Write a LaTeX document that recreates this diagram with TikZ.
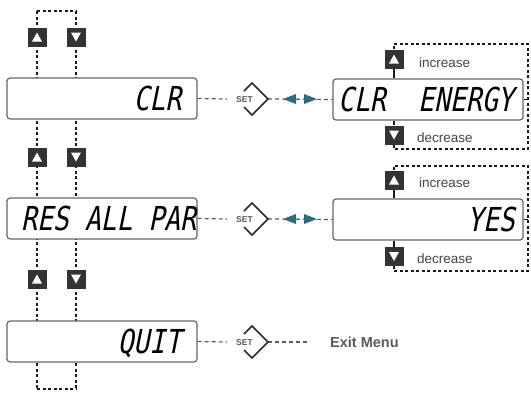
\documentclass[tikz,border=0pt]{standalone}
\usepackage{fontspec}
\setmainfont{Liberation Sans}
\newfontfamily\lcd[FakeStretch=0.8,FakeSlant=0.2]{DejaVu Sans Mono}
\usetikzlibrary{backgrounds}
\definecolor{btn}{HTML}{333333}
\definecolor{boxc}{HTML}{666666}
\definecolor{dashc}{HTML}{1A1A1A}
\definecolor{tealc}{HTML}{2F6B7C}
\definecolor{lbl}{HTML}{444444}
\definecolor{setc}{HTML}{5A5A5A}
\definecolor{chevc}{HTML}{2A2A2A}
\tikzset{
  disp/.style={draw=boxc, line width=1.2pt, rounded corners=3pt, fill=white,
    minimum width=190pt, minimum height=41pt, inner sep=0pt},
  lcdtxt/.style={font=\lcd\fontsize{33}{33}\selectfont, inner sep=0pt, anchor=base west, text=black},
  btnbase/.style={fill=btn, minimum size=19pt, inner sep=0pt},
  btnup/.style={btnbase, path picture={\fill[white] ([shift={(-5pt,-4.5pt)}]path picture bounding box.center) -- ++(10pt,0pt) -- ++(-5pt,9pt) -- cycle;}},
  btndown/.style={btnbase, path picture={\fill[white] ([shift={(-5pt,4.5pt)}]path picture bounding box.center) -- ++(10pt,0pt) -- ++(-5pt,-9pt) -- cycle;}},
  loopline/.style={draw=dashc, line width=1.3pt, dash pattern=on 3pt off 2.5pt},
  setline/.style={draw=setc, line width=1.2pt, dash pattern=on 4pt off 3pt},
  stub/.style={draw=dashc, line width=1.2pt},
  chev/.style={draw=chevc, line width=1.6pt, line join=miter},
  settxt/.style={font=\bfseries\fontsize{8.5}{8.5}\selectfont, text=setc, inner sep=0pt},
  lab/.style={font=\fontsize{13.5}{13.5}\selectfont, text=lbl, inner sep=0pt, anchor=base west},
  tealtip/.style={fill=tealc},
}
\begin{document}
\begin{tikzpicture}[x=1pt,y=-1pt]
\useasboundingbox (0,0) rectangle (531,392);

% left displays
\node[disp] (L1) at (102,98.5) {};
\node[disp] (L2) at (102,218.5) {};
\node[disp] (L3) at (102,341.5) {};
\node[lcdtxt] (t1) at (133.3,110.5) {CLR};
\node[lcdtxt] (t2) at (21,230.5) {RES ALL PAR};
\node[lcdtxt] (t3) at (117.4,353.5) {QUIT};

% left buttons
\node[btnup] (u1) at (37,37) {};
\node[btndown] (d1) at (76,37) {};
\node[btnup] (u2) at (37,157) {};
\node[btndown] (d2) at (76,157) {};
\node[btnup] (u3) at (37,279) {};
\node[btndown] (d3) at (76,279) {};
\coordinate (tl) at (37,11);
\coordinate (tr) at (76,11);
\coordinate (bl) at (37,389);
\coordinate (br) at (76,389);

% right displays
\node[disp] (R1) at (428,99.5) {};
\node[disp] (R2) at (428,219.5) {};
\node[lcdtxt] (rt1a) at (338,111.5) {CLR};
\node[lcdtxt] (rt1b) at (418,111.5) {ENERGY};
\node[lcdtxt] (rt2) at (467,231.5) {YES};

% right buttons
\node[btnup] (ru1) at (394,59) {};
\node[btndown] (rd1) at (394,135) {};
\node[btnup] (ru2) at (394,180) {};
\node[btndown] (rd2) at (394,256.5) {};
\node[lab] (inc1) at (419,67) {increase};
\node[lab] (dec1) at (417,142) {decrease};
\node[lab] (inc2) at (419,187) {increase};
\node[lab] (dec2) at (417,263) {decrease};
\coordinate (r1tl) at (394,44);
\coordinate (r1tr) at (528,44);
\coordinate (r1br) at (528,149);
\coordinate (r1bl) at (394,149);
\coordinate (r2tl) at (394,166);
\coordinate (r2tr) at (528,166);
\coordinate (r2br) at (528,271);
\coordinate (r2bl) at (394,271);

% SET symbols
\coordinate (S1) at (252,99);
\coordinate (S2) at (252,219);
\coordinate (S3) at (252,342);
\coordinate (S1r) at (268,99);
\coordinate (S2r) at (268,219);
\coordinate (S3r) at (268,342);
\coordinate (S1l) at (227,99);
\coordinate (S2l) at (227,219);
\coordinate (S3l) at (227,342);
\node[settxt] (st1) at (244.5,99.5) {SET};
\node[settxt] (st2) at (244.5,219.5) {SET};
\node[settxt] (st3) at (244.5,342.5) {SET};
\foreach \s in {S1,S2,S3}{
  \draw[chev] (\s) ++(-8,-8) -- ++(8,-8) -- ++(16,16) -- ++(-16,16) -- ++(-8,-8);
}
\node[font=\bfseries\fontsize{14.5}{14.5}\selectfont, text=setc, inner sep=0pt, anchor=west] (exit) at (330,342) {Exit Menu};
\coordinate (ex) at (310,342);

\begin{scope}[on background layer]
  \draw[loopline] (tl) -- (bl);
  \draw[loopline] (tr) -- (br);
  \draw[loopline] (tl) -- (tr);
  \draw[loopline] (bl) -- (br);
  \draw[loopline] (ru1) -- (r1tl) -- (r1tr) -- (r1br) -- (r1bl) -- (rd1);
  \draw[loopline] (ru2) -- (r2tl) -- (r2tr) -- (r2br) -- (r2bl) -- (rd2);
  \draw[stub] (ru1.south) -- (ru1.south |- R1.north);
  \draw[stub] (rd1.north) -- (rd1.north |- R1.south);
  \draw[stub] (ru2.south) -- (ru2.south |- R2.north);
  \draw[stub] (rd2.north) -- (rd2.north |- R2.south);
  \draw[stub] (R1.east) -- (R1.east -| r1tr);
  \draw[stub] (R2.east) -- (R2.east -| r2tr);
  \draw[setline] (L1.east) -- (S1l);
  \draw[setline] (L2.east) -- (S2l);
  \draw[setline] (L3.east) -- (S3l);
  \draw[setline] (S1r) -- (R1.west);
  \draw[setline] (S2r) -- (R2.west);
  \draw[setline] (S3r) -- (ex);
\end{scope}

% teal arrowheads
\fill[tealtip] (283,99) -- (296,94) -- (296,104) -- cycle;
\fill[tealtip] (317,99) -- (304,94) -- (304,104) -- cycle;
\fill[tealtip] (283,219) -- (296,214) -- (296,224) -- cycle;
\fill[tealtip] (317,219) -- (304,214) -- (304,224) -- cycle;
\end{tikzpicture}
\end{document}
